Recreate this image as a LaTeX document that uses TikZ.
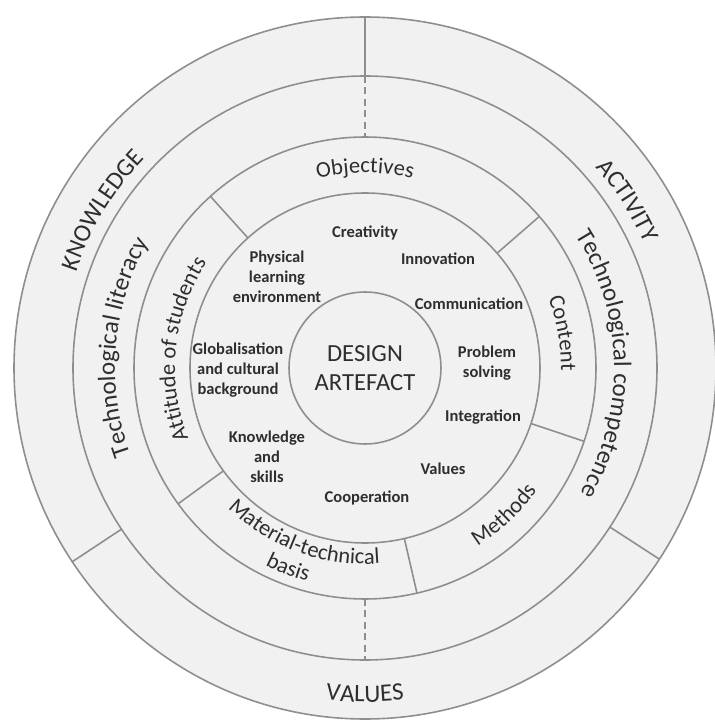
\documentclass[tikz,border=0pt]{standalone}
\usepackage{fontspec}
\setmainfont{Carlito}
\usetikzlibrary{decorations.text}
\definecolor{linegray}{HTML}{8E8E8E}
\definecolor{ringfill}{HTML}{F1F1F1}
\definecolor{ink}{HTML}{2E2E2E}
\newcommand{\outerfont}{\fontsize{14.2}{17}\selectfont}
\newcommand{\ringfont}{\fontsize{12.8}{15}\selectfont}
\newcommand{\wordfont}{\fontsize{9.4}{11.4}\selectfont\bfseries}
\newcommand{\corefont}{\fontsize{14}{16.1}\selectfont}
% text round a ring: centre angle, radius, font, text
\newcommand{\cwlabel}[4]{\pgfmathsetmacro\arcfrom{#1+70}\pgfmathsetmacro\arcto{#1-70}%
  \path[decorate,decoration={text along path,text align=center,text color=ink,text={|#3|#4}}]
  (\arcfrom:#2) arc[start angle=\arcfrom,end angle=\arcto,radius=#2];}
\newcommand{\ccwlabel}[4]{\pgfmathsetmacro\arcfrom{#1-70}\pgfmathsetmacro\arcto{#1+70}%
  \path[decorate,decoration={text along path,text align=center,text color=ink,text={|#3|#4}}]
  (\arcfrom:#2) arc[start angle=\arcfrom,end angle=\arcto,radius=#2];}
\begin{document}
\begin{tikzpicture}[x=0.02cm,y=0.02cm,
  ring/.style={draw=linegray,line width=0.9pt},
  split/.style={ring,dash pattern=on 4pt off 2.5pt},
  word/.style={align=center,inner sep=0pt,text=ink,font=\wordfont}]
\fill[white] (-365,-352) rectangle (349,368);
\useasboundingbox (-365,-352) rectangle (349,368);
\fill[ringfill] (0,0) circle[radius=351];
\foreach \r in {351,292,231,175}
  \draw[ring] (0,0) circle[radius=\r];
% dividers
\draw[ring] (90:351) -- (90:292);
\draw[split] (90:292) -- (90:231);
\draw[split] (270:231) -- (270:292);
\draw[ring] (213.5:292) -- (213.5:351);
\draw[ring] (-33:292) -- (-33:351);
\foreach \a in {132,41,-18.5,-77,216}
  \draw[ring] (\a:175) -- (\a:231);
% ring labels
\cwlabel{149}{304}{\outerfont}{KNOWLEDGE}
\cwlabel{32.5}{306}{\outerfont}{ACTIVITY}
\ccwlabel{270}{334}{\outerfont}{VALUES}
\cwlabel{175}{250}{\outerfont}{Technological literacy}
\cwlabel{1}{249}{\outerfont}{Technological competence}
\cwlabel{90}{195}{\ringfont}{Objectives}
\cwlabel{174}{190}{\ringfont}{Attitude of students}
\cwlabel{10}{196}{\ringfont}{Content}
\ccwlabel{313.4}{211}{\ringfont}{Methods}
\ccwlabel{250}{196}{\ringfont}{Material-technical}
\ccwlabel{249}{221}{\ringfont}{basis}
% centre
\node[ring,circle,minimum size=3.04cm,align=center,text=ink,font=\corefont] (core) at (0,0) {DESIGN\\ARTEFACT};
\node[word] (creativity) at (0,135) {Creativity};
\node[word] (innovation) at (73,109) {Innovation};
\node[word] (physical) at (-88,91) {Physical\\learning\\environment};
\node[word] (communication) at (104,64) {Communication};
\node[word] (global) at (-127,-2) {Globalisation\\and cultural\\background};
\node[word] (problem) at (122,5) {Problem\\solving};
\node[word] (integration) at (118,-49) {Integration};
\node[word] (knowledge) at (-98,-89) {Knowledge\\and\\skills};
\node[word] (values) at (78,-101) {Values};
\node[word] (cooperation) at (2,-130) {Cooperation};
\end{tikzpicture}
\end{document}
